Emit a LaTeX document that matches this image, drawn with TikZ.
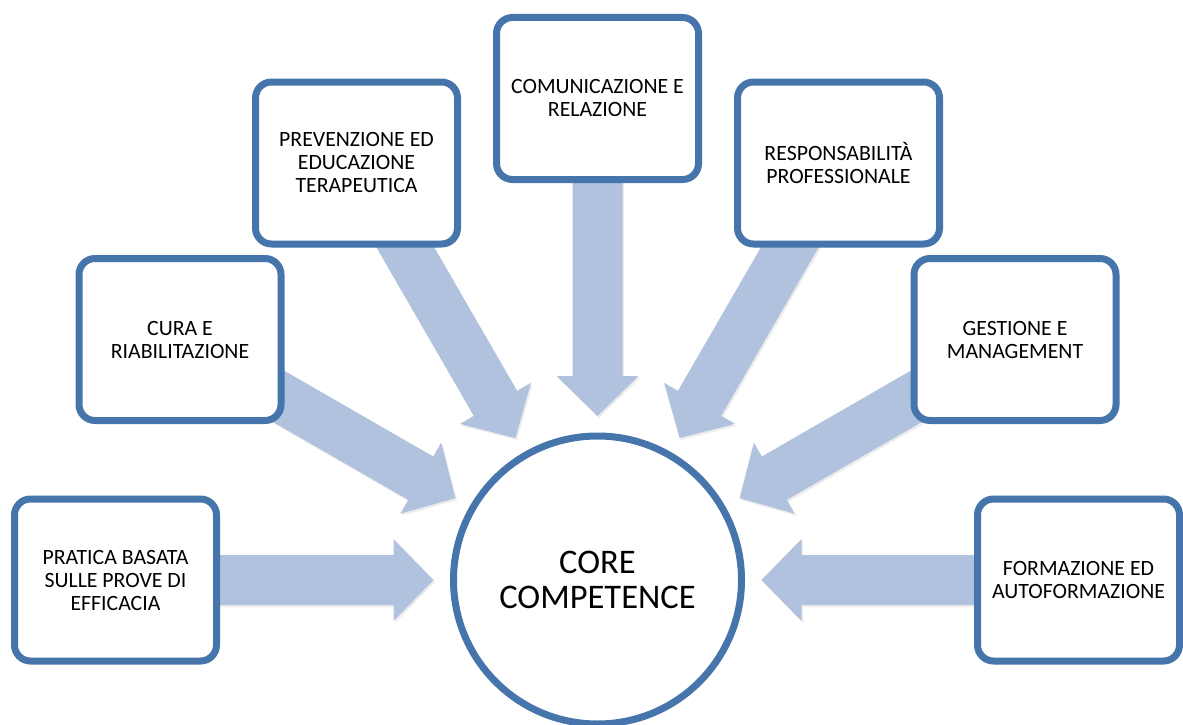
\documentclass[tikz,border=0pt]{standalone}
\usepackage{fontspec}
\setmainfont{Carlito}
\usetikzlibrary{calc,shadows,backgrounds}
\definecolor{bord}{RGB}{70,117,172}
\definecolor{arrfill}{RGB}{176,194,221}
\tikzset{
  compbox/.style={draw=bord, line width=7pt, rounded corners=16pt, fill=white,
    minimum width=202pt, minimum height=162pt, align=center, inner sep=0pt,
    font=\fontsize{21.8}{23}\selectfont,
    drop shadow={shadow xshift=2pt, shadow yshift=-3pt, opacity=0.22}},
  corecircle/.style={circle, draw=bord, line width=7pt, fill=white,
    minimum size=288pt, align=center, inner sep=0pt,
    font=\fontsize{34.5}{35}\selectfont,
    drop shadow={shadow xshift=2pt, shadow yshift=-3pt, opacity=0.22}},
  blockarr/.style={fill=arrfill, draw=none,
    drop shadow={shadow xshift=1.5pt, shadow yshift=-2pt, opacity=0.15}}
}
\newcommand\bkarrow[2]{%
  \coordinate (T) at ($(#1.center)!440pt!(#2.center)$);
  \coordinate (H) at ($(#1.center)!204pt!(#2.center)$);
  \coordinate (P) at ($(#1.center)!164pt!(#2.center)$);
  \fill[blockarr]
    ($(T)!25pt!90:(#2.center)$) --
    ($(H)!25pt!90:(#2.center)$) --
    ($(H)!41pt!90:(#2.center)$) --
    (P) --
    ($(H)!41pt!-90:(#2.center)$) --
    ($(H)!25pt!-90:(#2.center)$) --
    ($(T)!25pt!-90:(#2.center)$) -- cycle;
}
\begin{document}
\begin{tikzpicture}[x=1pt,y=-1pt]
\useasboundingbox (0,0) rectangle (1183,725);
\node[corecircle] (core) at (597.5,580) {CORE\\COMPETENCE};
\node[compbox] (b1) at (115.5,580) {PRATICA BASATA\\SULLE PROVE DI\\EFFICACIA};
\node[compbox] (b2) at (180,339.5) {CURA E\\RIABILITAZIONE};
\node[compbox] (b3) at (356.5,163) {PREVENZIONE ED\\EDUCAZIONE\\TERAPEUTICA};
\node[compbox] (b4) at (597.5,98.5) {COMUNICAZIONE E\\RELAZIONE};
\node[compbox] (b5) at (838.5,163) {RESPONSABILITÀ\\PROFESSIONALE};
\node[compbox] (b6) at (1015,339.5) {GESTIONE E\\MANAGEMENT};
\node[compbox] (b7) at (1078.5,580) {FORMAZIONE ED\\AUTOFORMAZIONE};
\begin{scope}[on background layer]
\fill[white] (0,0) rectangle (1183,725);
\bkarrow{core}{b1}
\bkarrow{core}{b2}
\bkarrow{core}{b3}
\bkarrow{core}{b4}
\bkarrow{core}{b5}
\bkarrow{core}{b6}
\bkarrow{core}{b7}
\end{scope}
\end{tikzpicture}
\end{document}
